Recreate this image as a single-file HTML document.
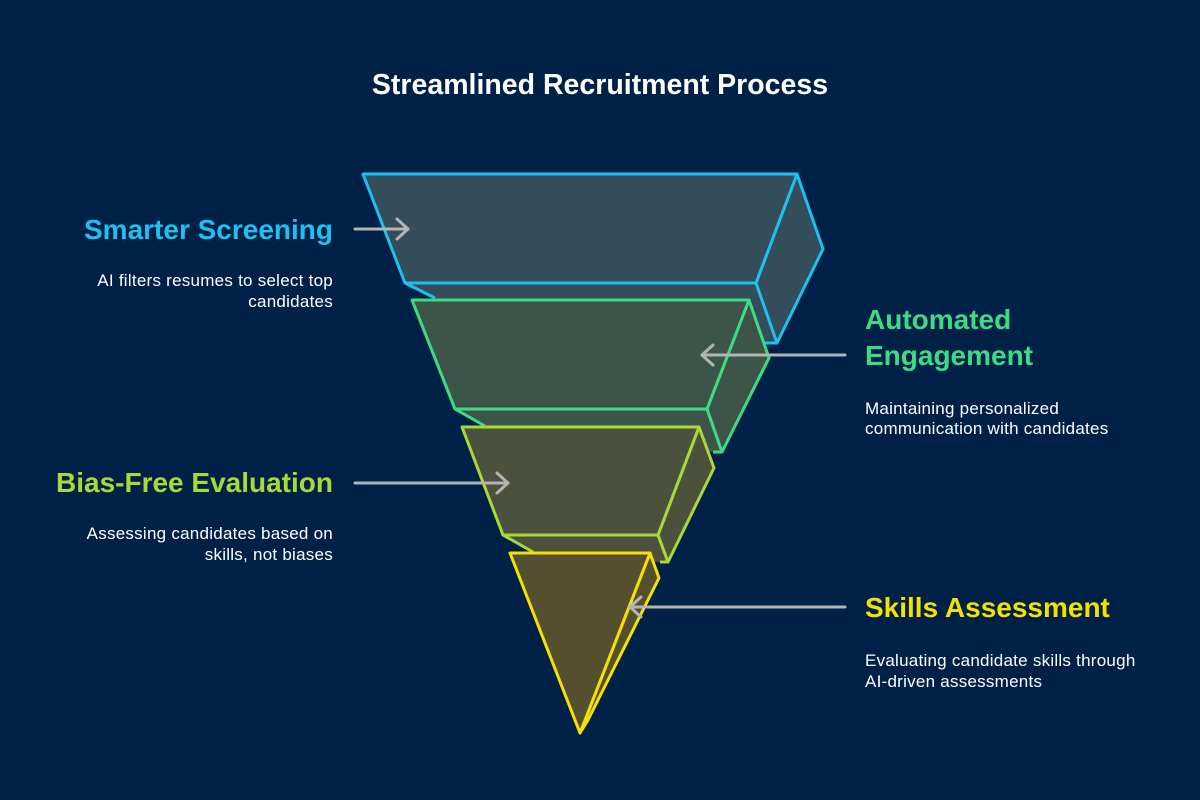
<!DOCTYPE html>
<html><head><style>
body{margin:0;width:1200px;height:800px;background:#002147;overflow:hidden;font-family:"Liberation Sans",Arial,sans-serif}
</style></head><body>
<svg width="1200" height="800" xmlns="http://www.w3.org/2000/svg" style="position:absolute;left:0;top:0">
<rect width="1200" height="800" fill="#002147"/>
<g stroke-width="3" stroke-linejoin="round">
<polygon points="405,283 756,283 777,343 765,343 435,298" fill="#344d5a" stroke="none"/>
<polyline points="405,283 435,298" fill="none" stroke="#1ec0f0"/>
<polygon points="797,174 823,249 777,343 756,283" fill="#344d5a" stroke="#1ec0f0"/>
<line x1="765" y1="343" x2="777" y2="343" stroke="#1ec0f0"/>
<polygon points="363,174 797,174 756,283 405,283" fill="#344d5a" stroke="#1ec0f0"/>
<polygon points="455,409 707,409 722,452 713,452 485,426" fill="#3d5549" stroke="none"/>
<polyline points="455,409 485,426" fill="none" stroke="#3ddc84"/>
<polygon points="749,300 769,358 722,452 707,409" fill="#3d5549" stroke="#3ddc84"/>
<line x1="713" y1="452" x2="722" y2="452" stroke="#3ddc84"/>
<polygon points="412,300 749,300 707,409 455,409" fill="#3d5549" stroke="#3ddc84"/>
<polygon points="503,535 658,535 668,562 660,562 533,552" fill="#4b513c" stroke="none"/>
<polyline points="503,535 533,552" fill="none" stroke="#a8d83a"/>
<polygon points="699,427 714,468 668,562 658,535" fill="#4b513c" stroke="#a8d83a"/>
<line x1="660" y1="562" x2="668" y2="562" stroke="#a8d83a"/>
<polygon points="462,427 699,427 658,535 503,535" fill="#4b513c" stroke="#a8d83a"/>
<polygon points="650,553 659,578 588,720 580,733" fill="#544f2f" stroke="#f5e000"/>
<polygon points="510,553 650,553 580,733" fill="#544f2f" stroke="#f5e000"/>
</g>
<g stroke="#b4b4b4" stroke-width="3" fill="none" stroke-linecap="round" stroke-linejoin="round">
<line x1="355" y1="229" x2="408" y2="229"/><polyline points="397,219 408,229 397,239"/>
<line x1="355" y1="483" x2="508" y2="483"/><polyline points="497,473 508,483 497,493"/>
<line x1="845" y1="355" x2="702" y2="355"/><polyline points="713,345 702,355 713,365"/>
<line x1="845" y1="607" x2="630" y2="607"/><polyline points="641,597 630,607 641,617"/>
</g>
<g font-family="Liberation Sans, Arial, sans-serif">
<text x="600" y="94" text-anchor="middle" fill="#fff" font-size="28.5" font-weight="bold">Streamlined Recruitment Process</text>
<text x="333" y="239" text-anchor="end" fill="#1ec0f0" font-size="28" font-weight="bold">Smarter Screening</text>
<text x="333" y="286" text-anchor="end" fill="#fff" font-size="17" letter-spacing="0.25">AI filters resumes to select top</text>
<text x="333" y="307" text-anchor="end" fill="#fff" font-size="17" letter-spacing="0.25">candidates</text>
<text x="865" y="329" fill="#3ddc84" font-size="28" font-weight="bold">Automated</text>
<text x="865" y="365" fill="#3ddc84" font-size="28" font-weight="bold">Engagement</text>
<text x="865" y="414" fill="#fff" font-size="17" letter-spacing="0.25">Maintaining personalized</text>
<text x="865" y="434" fill="#fff" font-size="17" letter-spacing="0.25">communication with candidates</text>
<text x="333" y="492" text-anchor="end" fill="#a8d83a" font-size="28" font-weight="bold">Bias-Free Evaluation</text>
<text x="333" y="539" text-anchor="end" fill="#fff" font-size="17" letter-spacing="0.25">Assessing candidates based on</text>
<text x="333" y="560" text-anchor="end" fill="#fff" font-size="17" letter-spacing="0.25">skills, not biases</text>
<text x="865" y="617" fill="#f5e000" font-size="28" font-weight="bold">Skills Assessment</text>
<text x="865" y="666" fill="#fff" font-size="17" letter-spacing="0.25">Evaluating candidate skills through</text>
<text x="865" y="687" fill="#fff" font-size="17" letter-spacing="0.25">AI-driven assessments</text>
</g>
</svg>
</body></html>
